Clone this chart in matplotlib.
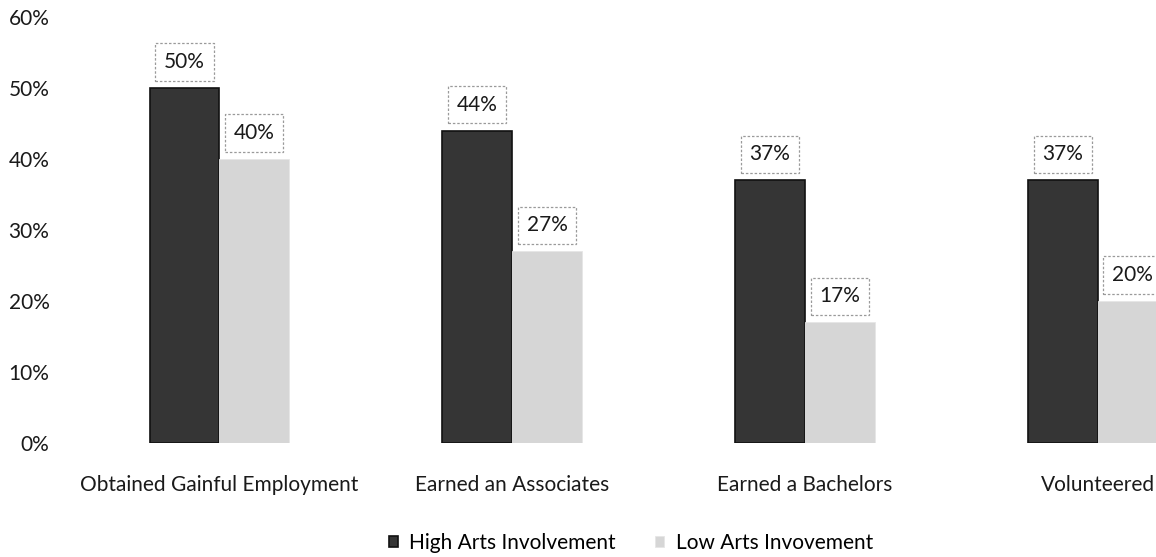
import numpy as np
import matplotlib.pyplot as plt

categories = ['Obtained Gainful Employment', 'Earned an Associates',
              'Earned a Bachelors', 'Volunteered']
high_arts = [50, 44, 37, 37]
low_arts = [40, 27, 17, 20]
series_names = ['High Arts Involvement', 'Low Arts Invovement']
y_ticks = [0, 10, 20, 30, 40, 50, 60]

plt.rcParams['font.family'] = ['Lato', 'DejaVu Sans']

fig = plt.figure(figsize=(11.56, 5.57), dpi=100)
W, H = 1156, 557
# plot area runs past the right edge, as in the cropped scan
ax = fig.add_axes((73 / W, (H - 443) / H, 1171 / W, (443 - 17) / H))

x = np.arange(len(categories))
bw = 0.238
b1 = ax.bar(x - bw / 2, high_arts, bw, color='#353535', edgecolor='#111111',
            linewidth=1.2, label=series_names[0], zorder=3)
b2 = ax.bar(x + bw / 2, low_arts, bw, color='#d6d6d6', edgecolor='#e6e6e6',
            linewidth=0.6, label=series_names[1], zorder=3)

box = dict(boxstyle='square,pad=0.42', facecolor='white', edgecolor='#9a9a9a',
           linestyle=(0, (2, 1.5)), linewidth=0.9)
for bars in (b1, b2):
    for rect in bars:
        h = rect.get_height()
        ax.annotate(f'{h:.0f}%', (rect.get_x() + rect.get_width() / 2, h),
                    xytext=(0, 26), textcoords='offset pixels',
                    ha='center', va='center', fontsize=15, color='#1a1a1a',
                    bbox=box, zorder=4)

ax.set_xlim(-0.5, 3.5)
ax.set_ylim(0, 60)
ax.set_yticks(y_ticks)
ax.set_yticklabels([f'{t}%' for t in y_ticks], fontsize=15, color='#1a1a1a')
ax.set_xticks(x)
ax.set_xticklabels(categories, fontsize=15, color='#1a1a1a')
ax.tick_params(axis='both', length=0)
ax.tick_params(axis='y', pad=17)
ax.tick_params(axis='x', pad=23)
for spine in ax.spines.values():
    spine.set_visible(False)

fig.legend(handles=[b1, b2], labels=series_names, loc='center',
           bbox_to_anchor=(631 / W, 1 - 543 / H), ncol=2, frameon=False,
           fontsize=15, handlelength=0.42, handleheight=0.42,
           handletextpad=0.55, columnspacing=1.9)

fig.savefig('out.png', dpi=100)
